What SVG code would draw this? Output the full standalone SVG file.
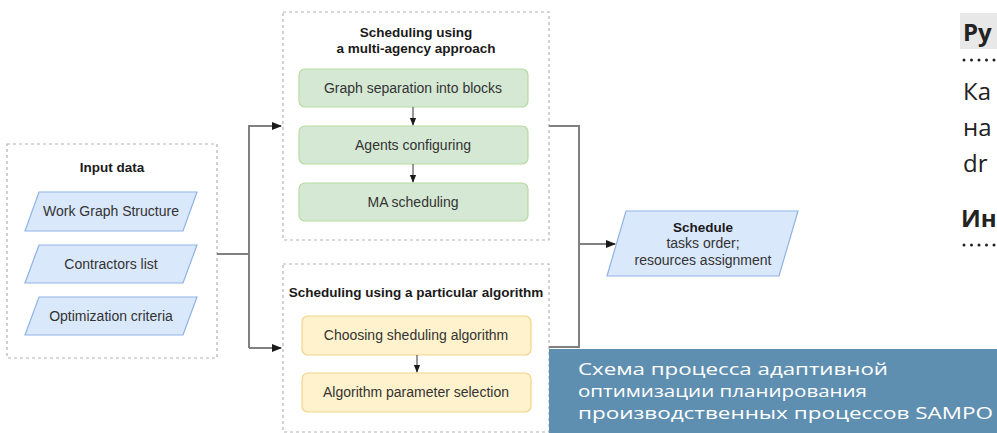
<svg xmlns="http://www.w3.org/2000/svg" width="997" height="433" viewBox="0 0 997 433">
<defs>
<style>
.frame{fill:#fff;stroke:#b3b3b3;stroke-width:1.2;stroke-dasharray:3 3}
.para{fill:#dae8fc;stroke:#8fb3e6;stroke-width:1.2}
.green{fill:#d5e8d4;stroke:#b7dba2;stroke-width:1.2}
.yellow{fill:#fff2cc;stroke:#f0d48a;stroke-width:1.2}
.t{font-family:"Liberation Sans",Arial,sans-serif;font-size:14px;fill:#333;text-anchor:middle}
.tb{font-family:"Liberation Sans",Arial,sans-serif;font-size:13.5px;font-weight:bold;fill:#1a1a1a;text-anchor:middle}
.conn{fill:none;stroke:#808080;stroke-width:2}
.small{fill:none;stroke:#333;stroke-width:1}
.side{font-family:"Open Sans","DejaVu Sans",sans-serif;font-size:24px;fill:#222}
.cap{font-family:"Open Sans","DejaVu Sans",sans-serif;font-size:17px;fill:#fff}
</style>
<marker id="ah" viewBox="0 0 10 10" refX="9" refY="5" markerWidth="10" markerHeight="10" markerUnits="userSpaceOnUse" orient="auto">
<path d="M0,1 L10,5 L0,9 Z" fill="#1a1a1a"/>
</marker>
<marker id="ahs" viewBox="0 0 10 10" refX="9" refY="5" markerWidth="8" markerHeight="8" markerUnits="userSpaceOnUse" orient="auto">
<path d="M0,1 L10,5 L0,9 Z" fill="#1a1a1a"/>
</marker>
</defs>
<rect width="997" height="433" fill="#fff"/>

<g id="input-data">
<rect class="frame" x="7" y="144" width="210" height="214"/>
<text class="tb" x="112" y="172">Input data</text>
</g>
<g id="work-graph">
<polygon class="para" points="39,192 197,192 183,231 25,231"/>
<text class="t" x="111" y="216">Work Graph Structure</text>
</g>
<g id="contractors">
<polygon class="para" points="39,245 197,245 183,283 25,283"/>
<text class="t" x="111" y="269">Contractors list</text>
</g>
<g id="optimization">
<polygon class="para" points="39,297 197,297 183,335 25,335"/>
<text class="t" x="111" y="321">Optimization criteria</text>
</g>

<g id="multi-agency">
<rect class="frame" x="283" y="12" width="266" height="228"/>
<text class="tb" x="416" y="37">Scheduling using</text>
<text class="tb" x="416" y="53">a multi-agency approach</text>
</g>
<g id="graph-separation">
<rect class="green" x="299" y="69" width="229" height="38" rx="6"/>
<text class="t" x="413" y="93">Graph separation into blocks</text>
</g>
<g id="agents-configuring">
<rect class="green" x="299" y="126" width="229" height="38" rx="6"/>
<text class="t" x="413" y="150">Agents configuring</text>
</g>
<g id="ma-scheduling">
<rect class="green" x="299" y="183" width="229" height="38" rx="6"/>
<text class="t" x="413" y="207">MA scheduling</text>
</g>

<g id="particular-algorithm">
<rect class="frame" x="283" y="264" width="266" height="168"/>
<text class="tb" x="416" y="297">Scheduling using a particular algorithm</text>
</g>
<g id="choosing-algorithm">
<rect class="yellow" x="302" y="316" width="229" height="39" rx="6"/>
<text class="t" x="416" y="340">Choosing sheduling algorithm</text>
</g>
<g id="parameter-selection">
<rect class="yellow" x="302" y="373" width="229" height="39" rx="6"/>
<text class="t" x="416" y="397">Algorithm parameter selection</text>
</g>

<g id="schedule">
<polygon class="para" points="626,211 798,211 779,276 607,276"/>
<text class="tb" x="703" y="232">Schedule</text>
<text class="t" x="703" y="248">tasks order;</text>
<text class="t" x="703" y="265">resources assignment</text>
</g>

<g id="connectors">
<path class="conn" d="M217,254 H249"/>
<path class="conn" d="M249,348 V126 H281" marker-end="url(#ah)"/>
<path class="conn" d="M249,348 H281" marker-end="url(#ah)"/>
<path class="conn" d="M549,126 H579 V347 H549"/>
<path class="conn" d="M579,244 H615" marker-end="url(#ah)"/>
<path class="small" d="M413,107 V125" marker-end="url(#ahs)"/>
<path class="small" d="M413,164 V182" marker-end="url(#ahs)"/>
<path class="small" d="M417,355 V372" marker-end="url(#ahs)"/>
</g>

<g id="caption">
<rect x="549" y="349" width="448" height="84" fill="#5f8fb0"/>
<text class="cap" x="578" y="375" textLength="310" lengthAdjust="spacingAndGlyphs">Схема процесса адаптивной</text>
<text class="cap" x="578" y="397" textLength="289" lengthAdjust="spacingAndGlyphs">оптимизации планирования</text>
<text class="cap" x="578" y="419" textLength="415" lengthAdjust="spacingAndGlyphs">производственных процессов SAMPO</text>
</g>

<g id="page-side">
<rect x="960" y="13" width="37" height="36" fill="#e8e8e8"/>
<text class="side" x="963" y="41" font-weight="bold" fill="#111">Ру</text>
<path d="M964,60 H997" stroke="#222" stroke-width="3" stroke-linecap="round" stroke-dasharray="0 7.5" fill="none"/>
<text class="side" x="963" y="100">Ка</text>
<text class="side" x="963" y="136">на</text>
<text class="side" x="963" y="172">dr</text>
<text class="side" x="961" y="227" font-weight="bold" fill="#111">Ин</text>
<path d="M964,245 H997" stroke="#222" stroke-width="3" stroke-linecap="round" stroke-dasharray="0 7.5" fill="none"/>
</g>
</svg>
